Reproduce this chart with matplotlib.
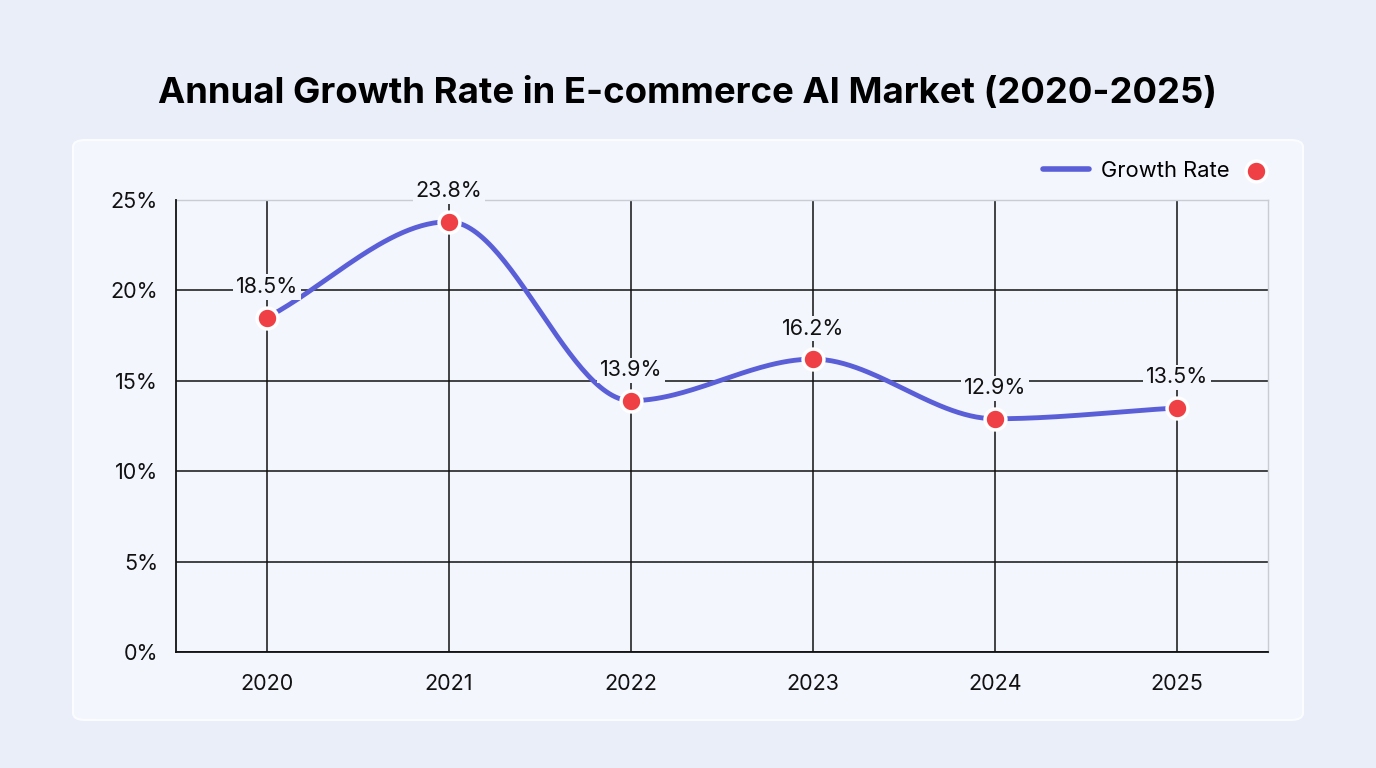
import numpy as np
import matplotlib.pyplot as plt
from matplotlib.patches import FancyBboxPatch
from matplotlib.lines import Line2D

plt.rcParams['font.family'] = ['Inter', 'DejaVu Sans']

years = ['2020', '2021', '2022', '2023', '2024', '2025']
growth = [18.5, 23.8, 13.9, 16.2, 12.9, 13.5]
yticks = [0, 5, 10, 15, 20, 25]
ytick_labels = ['0%', '5%', '10%', '15%', '20%', '25%']


def monotone(x, y, n=60):
    # Fritsch-Carlson monotone cubic, like the original's smooth line
    x = np.asarray(x, float)
    y = np.asarray(y, float)
    h = np.diff(x)
    d = np.diff(y) / h
    m = np.zeros_like(y)
    m[0], m[-1] = d[0], d[-1]
    for i in range(1, len(y) - 1):
        if d[i - 1] * d[i] <= 0:
            m[i] = 0
        else:
            m[i] = (d[i - 1] + d[i]) / 2
    for i in range(len(d)):
        if d[i] == 0:
            m[i] = m[i + 1] = 0
            continue
        a, b = m[i] / d[i], m[i + 1] / d[i]
        s = a * a + b * b
        if s > 9:
            t = 3 / np.sqrt(s)
            m[i], m[i + 1] = t * a * d[i], t * b * d[i]
    xs, ys = [], []
    for i in range(len(d)):
        t = np.linspace(0, 1, n)
        h00 = 2 * t**3 - 3 * t**2 + 1
        h10 = t**3 - 2 * t**2 + t
        h01 = -2 * t**3 + 3 * t**2
        h11 = t**3 - t**2
        xs.append(x[i] + t * h[i])
        ys.append(h00 * y[i] + h10 * h[i] * m[i] + h01 * y[i + 1] + h11 * h[i] * m[i + 1])
    return np.concatenate(xs), np.concatenate(ys)


bg = '#e9eef9'
card = '#f3f6fd'
line_c = '#5a5fd8'
dot_c = '#ef4046'

fig = plt.figure(figsize=(13.76, 7.68), dpi=100, facecolor=bg)

fig.patches.append(FancyBboxPatch((73 / 1376, 48 / 768), 1230 / 1376, 580 / 768,
                                  boxstyle='round,pad=0,rounding_size=0.009',
                                  transform=fig.transFigure, facecolor=card,
                                  edgecolor='#fbfcff', linewidth=1.5, zorder=-5))

fig.text(0.5, 1 - 93 / 768, 'Annual Growth Rate in E-commerce AI Market (2020-2025)',
         ha='center', va='center', fontsize=26.3, fontweight='bold', color='#000000')

ax = fig.add_axes([176 / 1376, 116 / 768, 1092 / 1376, 452 / 768])
ax.set_facecolor(card)

x = np.arange(len(years))
sx, sy = monotone(x, growth)
ax.plot(sx, sy, color=line_c, lw=3.5, solid_capstyle='round', zorder=3)
ax.plot(x, growth, 'o', color=dot_c, ms=15, mec='white', mew=2.5, zorder=4)

for xi, v in zip(x, growth):
    ax.annotate(f'{v}%', (xi, v), xytext=(0, 22), textcoords='offset points',
                ha='center', va='center', fontsize=15.5, color='#111111', zorder=5,
                bbox=dict(boxstyle='square,pad=0.12', fc=card, ec='none'))

ax.set_xlim(-0.5, len(years) - 0.5)
ax.set_ylim(0, 25)
ax.set_xticks(x)
ax.set_xticklabels(years)
ax.set_yticks(yticks)
ax.set_yticklabels(ytick_labels)
ax.tick_params(length=0, labelsize=15.5, colors='#111111')
ax.tick_params(axis='x', pad=16)
ax.tick_params(axis='y', pad=13)

ax.grid(True, color='#111111', lw=1.1, zorder=1)
ax.set_axisbelow(True)
for s in ['left', 'bottom']:
    ax.spines[s].set_color('#111111')
    ax.spines[s].set_linewidth(1.3)
for s in ['top', 'right']:
    ax.spines[s].set_color('#c9ccd4')
    ax.spines[s].set_linewidth(1.0)
ax.spines['top'].set_zorder(2)

# legend: line, label, then the dot
ax.legend(handles=[Line2D([], [], color=line_c, lw=4, solid_capstyle='round')],
          labels=['Growth Rate'], loc='center right', bbox_to_anchor=(0.965, 1.064),
          frameon=False, fontsize=15.8, handlelength=2.1, handletextpad=0.55,
          borderaxespad=0, borderpad=0)
ax.plot([0.989], [1.064], 'o', transform=ax.transAxes, clip_on=False,
        color=dot_c, ms=15, mec='white', mew=2.5)

fig.savefig('out.png', dpi=100, facecolor=bg)
